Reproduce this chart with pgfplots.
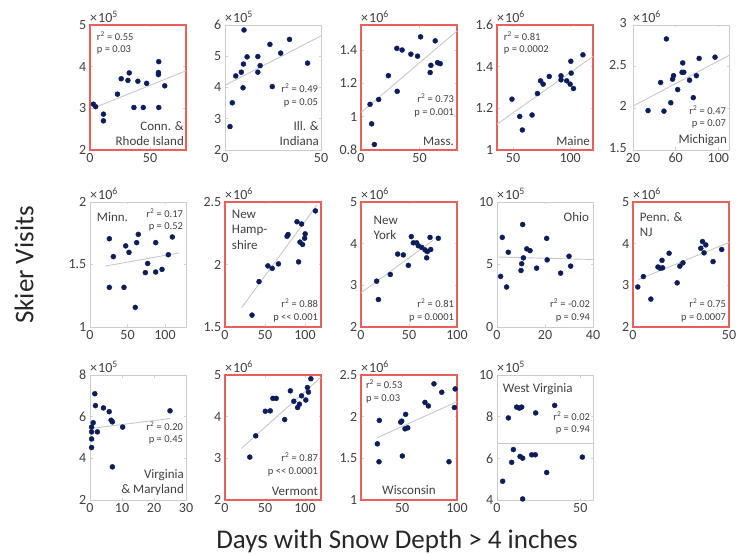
\documentclass[border=0pt]{standalone}
\usepackage{pgfplots}
\pgfplotsset{compat=1.18}
\usepackage{fontspec}
\setmainfont{Carlito}

\definecolor{navy}{HTML}{0B1E5B}
\definecolor{boxred}{HTML}{E8605C}
\definecolor{boxgray}{HTML}{CCCCCC}
\definecolor{fitgray}{HTML}{C8C8C8}
\definecolor{txtgray}{HTML}{404040}

\newcommand{\statfont}{\fontsize{10.5}{12.5}\selectfont}
\newcommand{\namefont}{\fontsize{13}{15.5}\selectfont}

\pgfplotsset{
  panel/.style={scale only axis, width=96pt, height=125pt, clip=false,
    anchor=south west, scaled ticks=false,
    axis line style={draw=boxgray, line width=0.9pt},
    tick align=inside, major tick length=2.5pt,
    tick style={draw=gray!35, line width=0.5pt},
    ticklabel style={font=\fontsize{14}{14}\selectfont, text=txtgray, inner sep=1pt},
    yticklabel style={xshift=-2.5pt}, xticklabel style={yshift=-2pt},
    /pgf/number format/assume math mode=true},
  hot/.style={axis line style={draw=boxred, line width=1.1pt}},
  dots/.style={only marks, mark=*, mark size=2.5pt, navy, mark options={draw=navy, fill=navy}},
  fit/.style={no marks, draw=fitgray, line width=0.9pt},
}
\tikzset{
  statn/.style={font=\statfont, text=txtgray, inner sep=0pt},
  lbl/.style={font=\namefont, text=txtgray, inner sep=0pt},
}
% exponent label above the box
\newcommand{\expo}[1]{\node[anchor=south west, inner sep=0pt, yshift=2pt, text=txtgray,
  font=\fontsize{14}{14}\selectfont] at (rel axis cs:0,1) {×\kern1pt 10\textsuperscript{#1}};}

\begin{document}
\begin{tikzpicture}
\useasboundingbox (0,0) rectangle (744pt,554pt);

% ---------------- row 1 ----------------
\begin{axis}[panel, hot, at={(90pt,404pt)}, xmin=0, xmax=80, ymin=2, ymax=5,
  xtick={0,50}, ytick={2,3,4,5}]
\addplot[fit] coordinates {(5,3.03) (80,3.90)};
\addplot[dots] coordinates {(2.8,3.10) (4.7,3.04) (11.2,2.86) (11.2,2.70) (22.9,3.34)
  (26.0,3.71) (31.6,3.67) (32.7,3.85) (36.6,3.02) (39.9,3.65) (44.4,3.02) (47.2,3.60)
  (57.3,4.12) (57.0,3.86) (57.0,3.81) (57.3,3.02) (62.3,3.54)};
\expo{5}
\node[statn, anchor=north west, align=left] at (rel axis cs:0.07,0.95) {r\textsuperscript{2} = 0.55\\p = 0.03};
\node[lbl, anchor=south east, align=right] at (rel axis cs:0.98,0.03) {Conn. \&\\Rhode Island};
\end{axis}

\begin{axis}[panel, at={(225pt,404pt)}, xmin=0, xmax=50, ymin=2, ymax=6,
  xtick={0,50}, ytick={2,3,4,5,6}]
\addplot[fit] coordinates {(0,4.07) (50,5.65)};
\addplot[dots] coordinates {(2.6,2.75) (3.8,3.51) (5.6,4.37) (8.5,4.49) (9.6,4.75)
  (9.4,3.99) (9.9,5.84) (11.5,4.98) (17.1,4.99) (17.1,4.49) (18.3,4.70) (23.4,5.38)
  (24.6,4.03) (29.0,5.10) (33.6,5.54) (43.0,4.78)};
\expo{5}
\node[statn, anchor=north east, align=right] at (rel axis cs:0.97,0.53) {r\textsuperscript{2} = 0.49\\p = 0.05};
\node[lbl, anchor=south east, align=right] at (rel axis cs:0.98,0.03) {Ill. \&\\Indiana};
\end{axis}

\begin{axis}[panel, hot, at={(361pt,404pt)}, xmin=0, xmax=82, ymin=0.8, ymax=1.55,
  xtick={0,50}, ytick={0.8,1,1.2,1.4}]
\addplot[fit] coordinates {(0,1.025) (82,1.514)};
\addplot[dots] coordinates {(7.7,1.074) (9.1,0.957) (11.4,0.833) (15.1,1.103) (23.4,1.246)
  (30.9,1.152) (30.6,1.410) (35.1,1.400) (42.6,1.375) (48.3,1.363) (50.9,1.479)
  (59.1,1.265) (59.7,1.308) (63.4,1.455) (65.4,1.324) (67.7,1.318)};
\expo{6}
\node[statn, anchor=north east, align=right] at (rel axis cs:0.97,0.45) {r\textsuperscript{2} = 0.73\\p = 0.001};
\node[lbl, anchor=south east] at (rel axis cs:0.97,0.03) {Mass.};
\end{axis}

\begin{axis}[panel, hot, at={(497pt,404pt)}, xmin=36, xmax=120, ymin=1, ymax=1.6,
  xtick={50,100}, ytick={1,1.2,1.4,1.6}]
\addplot[fit] coordinates {(36,1.124) (120,1.449)};
\addplot[dots] coordinates {(49.1,1.244) (55.9,1.161) (58.2,1.096) (66.7,1.168) (71.4,1.271)
  (74.1,1.332) (76.4,1.316) (81.7,1.353) (92.0,1.356) (92.0,1.337) (97.0,1.332)
  (100,1.316) (102.9,1.295) (100.9,1.369) (100.6,1.426) (111.2,1.457)};
\expo{6}
\node[statn, anchor=north west, align=left] at (rel axis cs:0.07,0.95) {r\textsuperscript{2} = 0.81\\p = 0.0002};
\node[lbl, anchor=south east] at (rel axis cs:0.97,0.03) {Maine};
\end{axis}

\begin{axis}[panel, at={(633pt,404pt)}, xmin=20, xmax=110, ymin=1.5, ymax=3,
  xtick={20,60,100}, ytick={1.5,2,2.5,3},
  yticklabel style={xshift=-2.5pt, yshift=2pt}]
\addplot[fit] coordinates {(20,2.027) (110,2.635)};
\addplot[dots] coordinates {(34.1,1.973) (45.9,2.310) (51.3,2.833) (49.0,1.966) (55.4,2.067)
  (57.1,2.350) (58.0,2.392) (61.9,2.225) (66.6,2.545) (66.0,2.432) (67.6,2.432)
  (73.0,2.338) (76.5,2.128) (79.4,2.392) (82.0,2.599) (96.9,2.614)};
\expo{6}
\node[statn, anchor=south east, align=right] at (rel axis cs:0.97,0.17) {r\textsuperscript{2} = 0.47\\p = 0.07};
\node[lbl, anchor=south east] at (rel axis cs:0.98,0.03) {Michigan};
\end{axis}

% ---------------- row 2 ----------------
\begin{axis}[panel, at={(90pt,227pt)}, xmin=0, xmax=128, ymin=1, ymax=2,
  xtick={0,50,100}, ytick={1,1.5,2}]
\addplot[fit] coordinates {(20,1.487) (118,1.592)};
\addplot[dots] coordinates {(25.8,1.706) (31.1,1.563) (25.8,1.317) (45.3,1.317) (47.6,1.649)
  (52,1.597) (62.2,1.675) (64.4,1.741) (60.4,1.157) (76.9,1.508) (73.8,1.435)
  (87.6,1.675) (87.6,1.440) (96,1.461) (104.4,1.578) (109.8,1.720)};
\expo{6}
\node[lbl, anchor=north west] at (rel axis cs:0.07,0.92) {Minn.};
\node[statn, anchor=north east, align=right] at (rel axis cs:0.97,0.95) {r\textsuperscript{2} = 0.17\\p = 0.52};
\end{axis}

\begin{axis}[panel, hot, at={(225pt,227pt)}, xmin=0, xmax=120, ymin=1.5, ymax=2.5,
  xtick={0,50,100}, ytick={1.5,2,2.5}]
\addplot[fit] coordinates {(20.6,1.653) (115,2.476)};
\addplot[dots] coordinates {(33.8,1.595) (42.5,1.863) (53.6,1.989) (59,1.969) (66.8,2.005)
  (77.6,2.226) (78.8,2.240) (90,2.342) (95.7,2.324) (92,2.021) (93.7,2.179)
  (97,2.160) (100.2,2.245) (99.5,2.21) (113,2.429)};
\expo{6}
\node[lbl, anchor=north west, align=left] at (rel axis cs:0.07,0.94) {New\\Hamp-\\shire};
\node[statn, anchor=south east, align=right] at (rel axis cs:0.97,0.04) {r\textsuperscript{2} = 0.88\\p <{}< 0.001};
\end{axis}

\begin{axis}[panel, hot, at={(361pt,227pt)}, xmin=0, xmax=100, ymin=2, ymax=5,
  xtick={0,50,100}, ytick={2,3,4,5}]
\addplot[fit] coordinates {(0,2.82) (75,4.08)};
\addplot[dots] coordinates {(16.3,3.10) (18.1,2.66) (30.5,3.26) (38.2,3.75) (44.1,3.73)
  (49.3,3.48) (52.4,4.17) (54.5,4.02) (58,4.02) (59.7,3.95) (63.2,3.91) (66.7,3.85)
  (68.4,3.66) (69.1,3.81) (71.9,4.15) (72.6,3.86) (80.5,4.13)};
\expo{6}
\node[lbl, anchor=north west, align=left] at (rel axis cs:0.13,0.89) {New\\York};
\node[statn, anchor=south east, align=right] at (rel axis cs:0.97,0.04) {r\textsuperscript{2} = 0.81\\p = 0.0001};
\end{axis}

\begin{axis}[panel, at={(497pt,227pt)}, xmin=0, xmax=40, ymin=0, ymax=10,
  xtick={0,20,40}, ytick={0,5,10}]
\addplot[fit] coordinates {(0,5.6) (40,5.4)};
\addplot[dots] coordinates {(2.2,7.17) (4.7,5.98) (1.5,4.05) (4.0,3.20) (10.7,8.2)
  (10.3,5.06) (10,4.52) (11,5.53) (12.4,6.25) (13.75,6.11) (16.5,4.71) (20.7,7.09)
  (20.9,5.37) (26.5,4.31) (30,5.66) (30.7,4.87)};
\expo{5}
\node[lbl, anchor=north east] at (rel axis cs:0.96,0.92) {Ohio};
\node[statn, anchor=south east, align=right] at (rel axis cs:0.97,0.04) {r\textsuperscript{2} = -0.02\\p = 0.94};
\end{axis}

\begin{axis}[panel, hot, at={(633pt,227pt)}, xmin=0, xmax=50, ymin=2, ymax=5,
  xtick={0,50}, ytick={2,3,4,5}]
\addplot[fit] coordinates {(2.8,3.14) (50,4.03)};
\addplot[dots] coordinates {(2.5,2.96) (5.4,3.21) (9.3,2.67) (13,3.44) (14.2,3.41)
  (15.4,3.42) (15.1,3.60) (18.8,3.77) (23,3.06) (24.4,3.46) (26,3.54) (35.3,3.89)
  (36.2,4.05) (37.9,3.97) (37,3.78) (41.7,3.57) (46.2,3.86)};
\expo{6}
\node[lbl, anchor=north west, align=left] at (rel axis cs:0.07,0.92) {Penn. \&\\NJ};
\node[statn, anchor=south east, align=right] at (rel axis cs:0.97,0.04) {r\textsuperscript{2} = 0.75\\p = 0.0007};
\end{axis}

% ---------------- row 3 ----------------
\begin{axis}[panel, at={(90pt,54pt)}, xmin=0, xmax=30, ymin=2, ymax=8,
  xtick={0,10,20,30}, ytick={2,4,6,8}]
\addplot[fit] coordinates {(0.5,5.44) (25,5.91)};
\addplot[dots] coordinates {(0.5,5.50) (0.5,5.27) (0.5,4.93) (0.5,4.52) (1.0,5.71)
  (1.5,7.10) (1.7,6.53) (2.3,5.27) (4.2,6.42) (6.0,6.24) (6.6,5.83) (7.0,5.75)
  (7.0,3.59) (10.2,5.50) (25,6.28)};
\expo{5}
\node[statn, anchor=north east, align=right] at (rel axis cs:0.97,0.63) {r\textsuperscript{2} = 0.20\\p = 0.45};
\node[lbl, anchor=south east, align=right] at (rel axis cs:0.98,0.03) {Virginia\\\& Maryland};
\end{axis}

\begin{axis}[panel, hot, at={(225pt,54pt)}, xmin=0, xmax=120, ymin=2, ymax=5,
  xtick={0,50,100}, ytick={2,3,4,5}]
\addplot[fit] coordinates {(20.6,3.24) (119.6,4.94)};
\addplot[dots] coordinates {(31,3.03) (38.4,3.54) (50.4,4.13) (56.6,4.14) (59.8,4.44)
  (64,4.44) (74.6,3.93) (81.7,4.62) (86,4.37) (90.7,4.22) (93,4.30) (95.7,4.50)
  (101,4.40) (103,4.70) (104.3,4.59) (107.3,4.91)};
\expo{6}
\node[statn, anchor=south east, align=right] at (rel axis cs:0.97,0.19) {r\textsuperscript{2} = 0.87\\p <{}< 0.0001};
\node[lbl, anchor=south east] at (rel axis cs:0.97,0.03) {Vermont};
\end{axis}

\begin{axis}[panel, hot, at={(361pt,54pt)}, xmin=12.5, xmax=100, ymin=1, ymax=2.5,
  xtick={50,100}, ytick={1,1.5,2,2.5}]
\addplot[fit] coordinates {(26.8,1.744) (99.7,2.178)};
\addplot[dots] coordinates {(27.4,1.674) (29.2,1.955) (28.9,1.459) (48.7,1.934) (49.6,1.946)
  (50.2,1.528) (52.6,1.854) (53.2,2.028) (55.1,1.866) (70.8,2.171) (73.9,2.129)
  (79.0,2.394) (86.1,2.293) (92.7,1.459) (97.6,2.110) (98.3,2.333)};
\expo{6}
\node[statn, anchor=north west, align=left] at (rel axis cs:0.05,0.96) {r\textsuperscript{2} = 0.53\\p = 0.03};
\node[lbl, anchor=south] at (rel axis cs:0.5,0.04) {Wisconsin};
\end{axis}

\begin{axis}[panel, at={(497pt,54pt)}, xmin=0, xmax=57.6, ymin=4, ymax=10,
  xtick={0,50}, ytick={4,6,8,10}]
\addplot[fit] coordinates {(0,6.71) (57.6,6.71)};
\addplot[dots] coordinates {(3.4,4.90) (6.8,7.94) (8.8,5.81) (9.8,6.42) (11.8,8.46)
  (13.4,8.41) (14.8,8.46) (13.8,6.09) (15.4,6.01) (15.4,4.05) (20.8,6.17) (23,6.17)
  (23.2,8.18) (29.8,5.32) (34.6,8.54) (51.2,6.06)};
\expo{5}
\node[lbl, anchor=north west] at (rel axis cs:0.06,0.93) {West Virginia};
\node[statn, anchor=north east, align=right] at (rel axis cs:0.97,0.71) {r\textsuperscript{2} = 0.02\\p = 0.94};
\end{axis}

% ---------------- shared labels ----------------
\node[rotate=90, font=\fontsize{27}{27}\selectfont, text=black!85] at (24pt,289pt) {Skier Visits};
\node[font=\fontsize{27}{27}\selectfont, text=black!85] at (397pt,13pt) {Days with Snow Depth > 4 inches};
\end{tikzpicture}
\end{document}
